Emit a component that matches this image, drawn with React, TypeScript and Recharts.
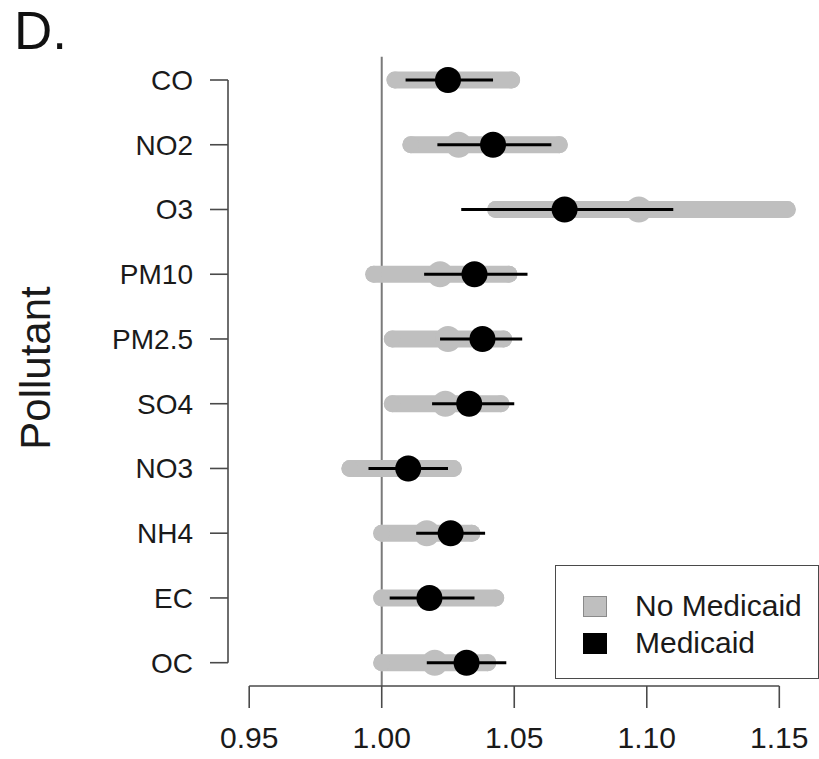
import React from 'react';
import { ScatterChart, Scatter, XAxis, YAxis, ErrorBar, ReferenceLine, Legend, Label } from 'recharts';

const pollutants = ['CO', 'NO2', 'O3', 'PM10', 'PM2.5', 'SO4', 'NO3', 'NH4', 'EC', 'OC'];
const seriesNames = ['No Medicaid', 'Medicaid'];
const noMedicaidEst = [1.025, 1.029, 1.097, 1.022, 1.025, 1.024, 1.01, 1.017, 1.018, 1.02];
const noMedicaidLow = [1.005, 1.011, 1.043, 0.997, 1.004, 1.004, 0.988, 1.0, 1.0, 1.0];
const noMedicaidHigh = [1.049, 1.067, 1.153, 1.048, 1.046, 1.045, 1.027, 1.034, 1.043, 1.04];
const medicaidEst = [1.025, 1.042, 1.069, 1.035, 1.038, 1.033, 1.01, 1.026, 1.018, 1.032];
const medicaidLow = [1.009, 1.021, 1.03, 1.016, 1.022, 1.019, 0.995, 1.013, 1.003, 1.017];
const medicaidHigh = [1.042, 1.064, 1.11, 1.055, 1.053, 1.05, 1.025, 1.039, 1.035, 1.047];
const xTicks = [0.95, 1.0, 1.05, 1.1, 1.15];
const yTicks = pollutants.map((_, i) => i + 1);

const FONT = '"Liberation Sans", Arial, Helvetica, sans-serif';
const GRAY = '#bfbfbf';
const AXIS = '#4a4a4a';

const build = (est: number[], lo: number[], hi: number[]) =>
  pollutants.map((name, i) => ({
    name,
    y: i + 1,
    x: est[i],
    err: [est[i] - lo[i], hi[i] - est[i]],
  }));

const noMedicaidData = build(noMedicaidEst, noMedicaidLow, noMedicaidHigh);
const medicaidData = build(medicaidEst, medicaidLow, medicaidHigh);

const GrayDot = (props: any) => <circle cx={props.cx} cy={props.cy} r={13} fill={GRAY} />;
const BlackDot = (props: any) => <circle cx={props.cx} cy={props.cy} r={13} fill="#000" />;

const PollutantLabel = () => (
  <text
    x={0}
    y={0}
    transform="translate(50,368) rotate(-90)"
    textAnchor="middle"
    fontSize={42}
    fontFamily={FONT}
    fill="#1a1a1a"
  >
    Pollutant
  </text>
);

const LegendBox = (props: any) => {
  const payload = [...(props.payload || [])].sort(
    (a: any, b: any) => seriesNames.indexOf(a.value) - seriesNames.indexOf(b.value)
  );
  return (
    <div
      style={{
        boxSizing: 'border-box',
        width: 264,
        height: 114,
        border: `1.5px solid ${AXIS}`,
        background: '#fff',
        position: 'relative',
        fontFamily: FONT,
        fontSize: 30,
        color: '#1a1a1a',
      }}
    >
      {payload.map((entry: any, i: number) => (
        <div
          key={entry.value}
          style={{
            position: 'absolute',
            left: 27,
            top: 22 + i * 37,
            height: 36,
            display: 'flex',
            alignItems: 'center',
            whiteSpace: 'nowrap',
          }}
        >
          <div
            style={{
              boxSizing: 'border-box',
              width: 24,
              height: 21,
              background: entry.color,
              border: `1.5px solid ${entry.value === seriesNames[0] ? '#8a8a8a' : '#000'}`,
              marginRight: 28,
            }}
          />
          <span style={{ lineHeight: '36px' }}>{entry.value}</span>
        </div>
      ))}
    </div>
  );
};

export default function App() {
  return (
    <div style={{ position: 'absolute', left: 0, top: 0, width: 819, height: 759, background: '#fff' }}>
      <div
        style={{
          position: 'absolute',
          left: 14,
          top: 4,
          fontFamily: FONT,
          fontSize: 53,
          lineHeight: '53px',
          color: '#111',
        }}
      >
        D.
      </div>
      <ScatterChart width={819} height={759} margin={{ top: 56.7, right: 18.5, bottom: 0, left: 0 }}>
        <XAxis
          type="number"
          dataKey="x"
          domain={[0.942, 1.158]}
          ticks={xTicks}
          interval={0}
          allowDataOverflow
          tickFormatter={(v: number) => v.toFixed(2)}
          axisLine={false}
          tickLine={{ stroke: AXIS, strokeWidth: 1.6 }}
          tickSize={22}
          tickMargin={19}
          height={73}
          tick={{ fontSize: 30, fill: '#1a1a1a', fontFamily: FONT }}
        />
        <YAxis
          type="number"
          dataKey="y"
          domain={[0.64, 10.36]}
          reversed
          ticks={yTicks}
          interval={0}
          allowDataOverflow
          tickFormatter={(v: number) => pollutants[v - 1]}
          axisLine={false}
          tickLine={{ stroke: AXIS, strokeWidth: 1.6 }}
          tickSize={18}
          tickMargin={17}
          width={228}
          tick={{ fontSize: 28, fill: '#1a1a1a', fontFamily: FONT }}
        >
          <Label content={PollutantLabel} />
        </YAxis>
        <ReferenceLine x={1} stroke="#7a7a7a" strokeWidth={2} />
        <ReferenceLine
          segment={[{ x: 0.95, y: 10.36 }, { x: 1.15, y: 10.36 }]}
          stroke={AXIS}
          strokeWidth={1.6}
          ifOverflow="visible"
        />
        <ReferenceLine
          segment={[{ x: 0.942, y: 1 }, { x: 0.942, y: 10 }]}
          stroke={AXIS}
          strokeWidth={1.6}
          ifOverflow="visible"
        />
        <Scatter
          name={seriesNames[0]}
          data={noMedicaidData}
          fill={GRAY}
          shape={GrayDot}
          isAnimationActive={false}
          zIndex={600}
        >
          <ErrorBar
            dataKey="err"
            direction="x"
            width={0}
            stroke={GRAY}
            strokeWidth={17}
            strokeLinecap="round"
            isAnimationActive={false}
            zIndex={550}
          />
        </Scatter>
        <Scatter
          name={seriesNames[1]}
          data={medicaidData}
          fill="#000"
          shape={BlackDot}
          isAnimationActive={false}
          zIndex={700}
        >
          <ErrorBar
            dataKey="err"
            direction="x"
            width={0}
            stroke="#000"
            strokeWidth={3}
            strokeLinecap="butt"
            isAnimationActive={false}
            zIndex={650}
          />
        </Scatter>
        <Legend
          layout="horizontal"
          verticalAlign="middle"
          align="center"
          wrapperStyle={{ left: 555, top: 565, width: 264, height: 114 }}
          content={LegendBox}
        />
      </ScatterChart>
    </div>
  );
}
